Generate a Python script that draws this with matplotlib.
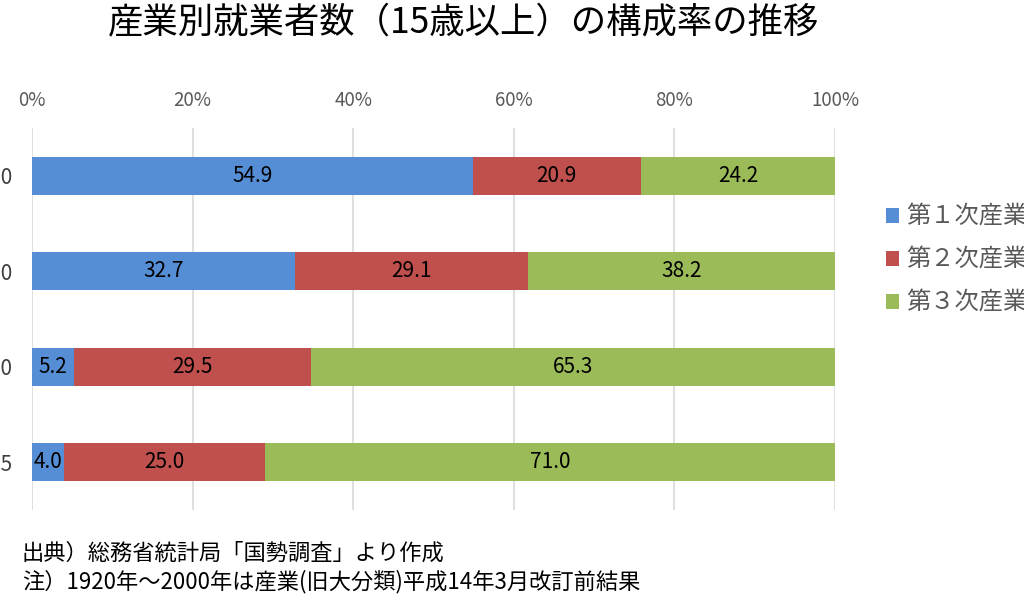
import matplotlib.pyplot as plt
import numpy as np

plt.rcParams['font.family'] = ['Noto Sans CJK JP', 'DejaVu Sans']

years = ['1920', '1960', '2000', '2015']
primary = [54.9, 32.7, 5.2, 4.0]
secondary = [20.9, 29.1, 29.5, 25.0]
tertiary = [24.2, 38.2, 65.3, 71.0]
series_names = ['第１次産業', '第２次産業', '第３次産業']
colors = ['#558ED5', '#C0504D', '#9BBB59']

fig = plt.figure(figsize=(10.24, 6.10), dpi=100)
ax = fig.add_axes([32 / 1024, 100 / 610, 803 / 1024, 382 / 610])

y = np.arange(len(years))
left = np.zeros(len(years))
for vals, name, col in zip([primary, secondary, tertiary], series_names, colors):
    vals = np.array(vals)
    bars = ax.barh(y, vals, left=left, height=0.4, color=col, label=name)
    ax.bar_label(bars, labels=[f'{v:.1f}' for v in vals], label_type='center',
                 fontsize=15, color='black')
    left += vals

ax.set_xlim(0, 100)
ax.set_ylim(len(years) - 0.5, -0.5)
ax.set_yticks(y)
ax.set_yticklabels(years, fontsize=15, color='#404040')
ax.set_xticks([0, 20, 40, 60, 80, 100])
ax.set_xticklabels(['0%', '20%', '40%', '60%', '80%', '100%'], fontsize=13.5, color='#595959')
ax.xaxis.tick_top()
ax.tick_params(axis='x', length=0, pad=12)
ax.tick_params(axis='y', length=0, pad=14)
ax.grid(axis='x', color='#D9D9D9', linewidth=1.2)
ax.set_axisbelow(True)
for s in ax.spines.values():
    s.set_visible(False)

fig.text(464 / 1024, 1 - 23 / 610, '産業別就業者数（15歳以上）の構成率の推移',
         ha='center', va='center', fontsize=25.5, color='black')

fig.legend(loc='upper left', bbox_to_anchor=(864 / 1024, 1 - 182 / 610),
           frameon=False, fontsize=17.5, handlelength=0.55, handleheight=0.55,
           handletextpad=0.3, labelspacing=0.7, labelcolor='#595959')

fig.text(22 / 1024, 1 - 553 / 610, '出典）総務省統計局「国勢調査」より作成',
         ha='left', va='center', fontsize=16)
fig.text(22 / 1024, 1 - 582 / 610, '注）1920年～2000年は産業(旧大分類)平成14年3月改訂前結果',
         ha='left', va='center', fontsize=16)

fig.savefig('out.png', dpi=100)
